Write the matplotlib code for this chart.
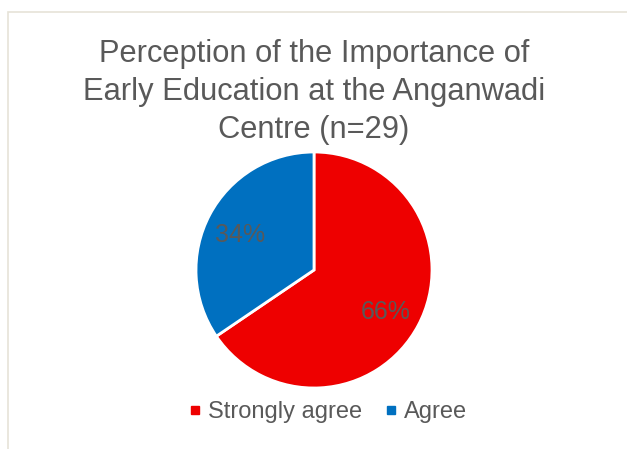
import matplotlib
matplotlib.use("Agg")
import matplotlib.pyplot as plt
from matplotlib.patches import Rectangle
from matplotlib.lines import Line2D

plt.rcParams['font.family'] = ['Liberation Sans', 'DejaVu Sans']

categories = ["Strongly agree", "Agree"]
counts = [19, 10]
colors = ["#EE0000", "#0070C0"]
title = "Perception of the Importance of\nEarly Education at the Anganwadi\nCentre (n=29)"

W, H = 627, 449
fig = plt.figure(figsize=(W / 100, H / 100), dpi=100)
fig.patch.set_facecolor("white")

# chart area border
fig.patches.append(Rectangle((8 / W, -0.1), 1.2, (H - 12) / H + 0.1,
                             transform=fig.transFigure, fill=False,
                             edgecolor="#E6E3D8", linewidth=1.2))

cx, cy, r = 314, 270, 118
ax = fig.add_axes([(cx - r) / W, (H - cy - r) / H, 2 * r / W, 2 * r / H])
wedges, texts, autotexts = ax.pie(
    counts, colors=colors, startangle=90, counterclock=False,
    autopct='%1.0f%%', pctdistance=0.7, radius=1,
    wedgeprops=dict(edgecolor="white", linewidth=2),
    textprops=dict(color="#595959", fontsize=18))
for t in autotexts:
    x, y = t.get_position()
    t.set_position((x - 0.01, y - 0.03))
ax.set_xlim(-1, 1)
ax.set_ylim(-1, 1)
ax.set_aspect("equal")
ax.axis("off")

fig.text(cx / W, 1 - 92 / H, title, ha="center", va="center", fontsize=22.2,
         color="#595959", linespacing=1.35)

handles = [Line2D([], [], marker="s", linestyle="none", markersize=6,
                  markerfacecolor=c, markeredgecolor=c) for c in colors]
fig.legend(handles, categories, loc="center", bbox_to_anchor=(327 / W, 1 - 412 / H),
           ncol=2, frameon=False, fontsize=17, labelcolor="#595959",
           handlelength=0.7, handletextpad=0.2, columnspacing=0.9)

fig.savefig("out.png", dpi=100)
